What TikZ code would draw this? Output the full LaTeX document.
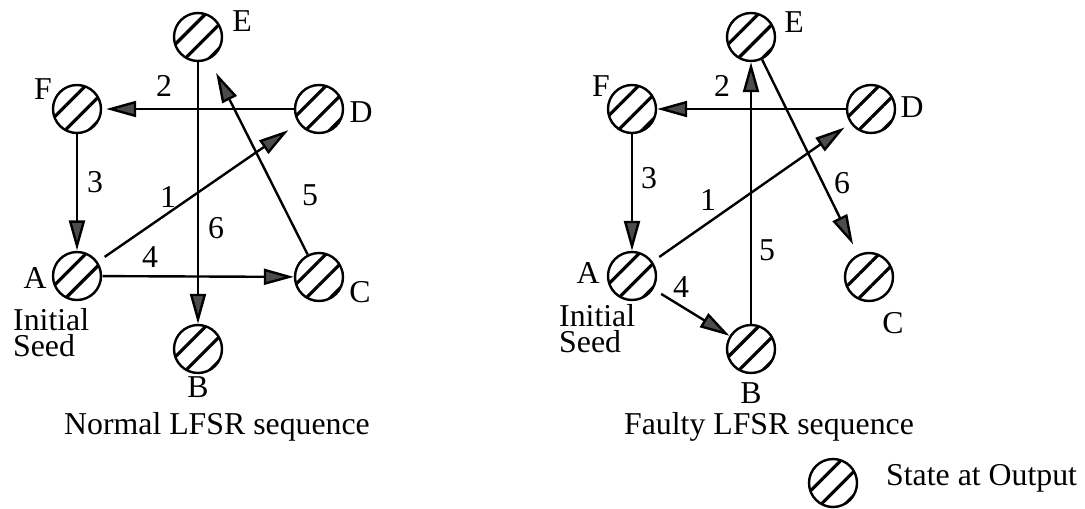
\documentclass[tikz,border=0pt]{standalone}
\usepackage{fontspec}
\setmainfont{Liberation Serif}
\usetikzlibrary{arrows.meta,patterns.meta,positioning}

\begin{document}
\begin{tikzpicture}[x=0.5pt,y=-0.5pt,font=\fontsize{15.9}{13}\selectfont,line width=1.2pt,
  >={Triangle[length=15pt,width=8pt,fill=black!70]},
  state/.style={circle,draw,line width=1.2pt,minimum size=24pt,inner sep=0pt,
    pattern={Lines[angle=45,distance=8.5pt,line width=1.6pt]}},
  lbl/.style={anchor=base,inner sep=0pt}]
  \useasboundingbox (0,0) rectangle (1085,508);
  \node[state] (nA) at (77,276) {};
  \node[state] (nB) at (198,349) {};
  \node[state] (nC) at (319,277) {};
  \node[state] (nD) at (319,109) {};
  \node[state] (nE) at (198,37) {};
  \node[state] (nF) at (77,109) {};
  \node[lbl] (nAl) at (35,288) {A};
  \node[lbl] (nBl) at (198,397) {B};
  \node[lbl] (nCl) at (360,302) {C};
  \node[lbl] (nDl) at (361,122) {D};
  \node[lbl] (nEl) at (242,32) {E};
  \node[lbl] (nFl) at (43,99) {F};
  \node[lbl,anchor=base west,align=left] (nseed) at (12,356) {Initial\\Seed};
  \draw[->,shorten <=4pt,shorten >=6pt] (nA) -- (nD);
  \draw[->,shorten >=2pt] (nD) -- (nF);
  \draw[->] (nF) -- (nA);
  \draw[->] (nA) -- (nC);
  \draw[->,shorten >=7.5pt] (nC) -- (nE);
  \draw[->] (nE) -- (nB);
  \node[lbl] (n1) at (168,207) {1};
  \node[lbl] (n2) at (164,97) {2};
  \node[lbl] (n3) at (95,192) {3};
  \node[lbl] (n4) at (150,267) {4};
  \node[lbl] (n5) at (310,205) {5};
  \node[lbl] (n6) at (216,238) {6};
  \node[lbl] (ntitle) at (217,434) {Normal LFSR sequence};

  \node[state] (fA) at (632,276) {};
  \node[state] (fB) at (751,349) {};
  \node[state] (fC) at (869,277) {};
  \node[state] (fD) at (871,109) {};
  \node[state] (fE) at (751,37) {};
  \node[state] (fF) at (632,109) {};
  \node[lbl] (fAl) at (588,283) {A};
  \node[lbl] (fBl) at (751,403) {B};
  \node[lbl] (fCl) at (893,333) {C};
  \node[lbl] (fDl) at (912,118) {D};
  \node[lbl] (fEl) at (794,33) {E};
  \node[lbl] (fFl) at (601,97) {F};
  \node[lbl,anchor=base west,align=left] (fseed) at (558,352) {Initial\\Seed};
  \draw[->,shorten <=4pt,shorten >=3.5pt] (fA) -- (fD);
  \draw[->] (fD) -- (fF);
  \draw[->] (fF) -- (fA);
  \draw[->,shorten <=4.5pt] (fA) -- (fB);
  \draw[->] (fB) -- (fE);
  \draw[->,shorten >=5.5pt] (fE) -- (fC);
  \node[lbl] (f1) at (708,210) {1};
  \node[lbl] (f2) at (722,97) {2};
  \node[lbl] (f3) at (649,188) {3};
  \node[lbl] (f4) at (681,297) {4};
  \node[lbl] (f5) at (767,260) {5};
  \node[lbl] (f6) at (842,193) {6};
  \node[lbl] (ftitle) at (769,434) {Faulty LFSR sequence};

  \node[state] (key) at (833,483) {};
  \node[lbl,anchor=base west] (keytxt) at (885,485) {State at Output};
\end{tikzpicture}
\end{document}
